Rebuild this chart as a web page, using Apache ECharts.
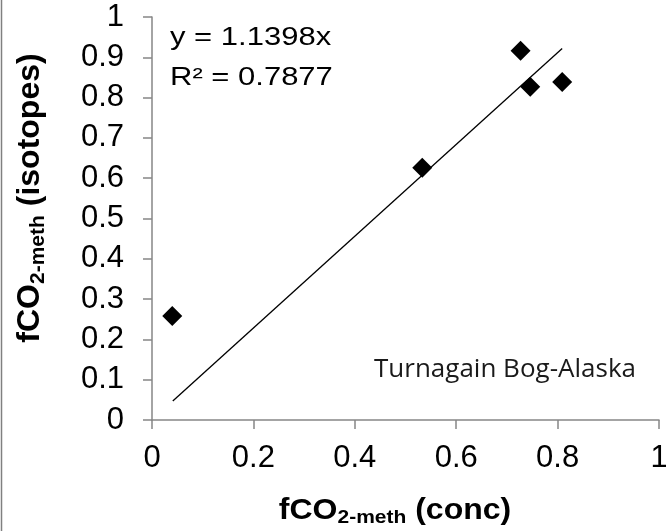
<!DOCTYPE html>
<html>
<head>
<meta charset="utf-8">
<script src="https://cdn.jsdelivr.net/npm/echarts@6/dist/echarts.min.js"></script>
<style>
  html, body { margin: 0; padding: 0; background: #fff; }
  #chart { width: 666px; height: 531px; }
</style>
</head>
<body>
<div id="chart"></div>
<script>
// measured points: fCO2-meth (conc) vs fCO2-meth (isotopes)
const concValues = [0.04, 0.533, 0.727, 0.746, 0.809]
const isoValues = [0.258, 0.626, 0.916, 0.827, 0.839]
// linear trend through origin, drawn over the data range
const trendX = [0.041, 0.809]
const trendY = [0.047, 0.922]
const xTicks = [0, 0.2, 0.4, 0.6, 0.8, 1]
const yTicks = [0, 0.1, 0.2, 0.3, 0.4, 0.5, 0.6, 0.7, 0.8, 0.9, 1]

const chart = echarts.init(document.getElementById('chart'))

const axisGray = '#868686'
const labelFont = '"Liberation Sans", Arial, sans-serif'

// rich text styles for the axis titles (subscript 2-meth)
const titleRich = {
  m: { fontSize: 32, fontWeight: 'bold', fontFamily: labelFont, fill: '#000', lineHeight: 36 },
  s: { fontSize: 21, fontWeight: 'bold', fontFamily: labelFont, fill: '#000', padding: [16, 0, 0, 0], lineHeight: 36 },
}

const option = {
  animation: false,
  grid: { left: 152, right: 7, top: 17, bottom: 111, containLabel: false, outerBoundsMode: 'none' },
  xAxis: {
    type: 'value',
    min: xTicks[0],
    max: xTicks[xTicks.length - 1],
    interval: 0.2,
    axisLine: { show: true, lineStyle: { color: axisGray, width: 1.5 } },
    axisTick: { show: true, length: 9, lineStyle: { color: axisGray, width: 1.5 } },
    axisLabel: {
      margin: 23,
      color: '#000',
      fontSize: 31,
      fontFamily: labelFont,
      formatter: v => String(+v.toFixed(1)),
    },
    splitLine: { show: false },
  },
  yAxis: {
    type: 'value',
    min: yTicks[0],
    max: yTicks[yTicks.length - 1],
    interval: 0.1,
    axisLine: { show: true, lineStyle: { color: axisGray, width: 1.5 } },
    axisTick: { show: true, length: 9, lineStyle: { color: axisGray, width: 1.5 } },
    axisLabel: {
      margin: 28,
      color: '#000',
      fontSize: 31,
      fontFamily: labelFont,
      formatter: v => String(+v.toFixed(1)),
    },
    splitLine: { show: false },
  },
  series: [
    {
      type: 'line',
      data: trendX.map((x, i) => [x, trendY[i]]),
      symbol: 'none',
      lineStyle: { color: '#000', width: 1.3 },
      z: 2,
    },
    {
      type: 'scatter',
      data: concValues.map((x, i) => [x, isoValues[i]]),
      symbol: 'diamond',
      symbolSize: 20,
      itemStyle: { color: '#000', opacity: 1 },
      z: 3,
    },
  ],
  graphic: [
    // left frame edge
    {
      type: 'line',
      shape: { x1: 1.5, y1: 0, x2: 1.5, y2: 531 },
      style: { stroke: '#808080', lineWidth: 1.5 },
    },
    {
      type: 'text',
      x: 170, y: 38, scaleY: 0.84,
      style: { text: 'y = 1.1398x', fill: '#000', font: '31px ' + labelFont, verticalAlign: 'middle' },
    },
    {
      type: 'text',
      x: 170, y: 78, scaleY: 0.84,
      style: { text: 'R² = 0.7877', fill: '#000', font: '31px ' + labelFont, verticalAlign: 'middle' },
    },
    {
      type: 'text',
      x: 505, y: 370,
      style: {
        text: 'Turnagain Bog-Alaska',
        fill: '#1a1a1a',
        font: '26px "Open Sans", Lato, sans-serif',
        align: 'center',
        verticalAlign: 'middle',
      },
    },
    // x axis title
    {
      type: 'text',
      x: 395, y: 511, scaleY: 0.9,
      style: { text: '{m|fCO}{s|2-meth}{m| (conc)}', align: 'center', verticalAlign: 'middle', rich: titleRich },
    },
    // y axis title
    {
      type: 'text',
      x: 30, y: 198,
      rotation: Math.PI / 2,
      style: { text: '{m|fCO}{s|2-meth}{m| (isotopes)}', align: 'center', verticalAlign: 'middle', rich: titleRich },
    },
  ],
}

chart.setOption(option)
</script>
</body>
</html>
